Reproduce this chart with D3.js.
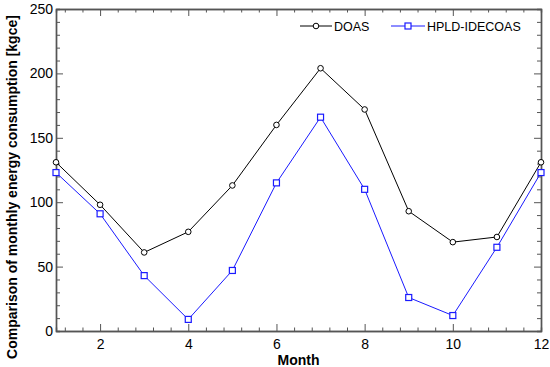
<!DOCTYPE html>
<html>
<head>
<meta charset="utf-8">
<script src="https://cdn.jsdelivr.net/npm/d3@7"></script>
<style>
  body { margin: 0; background: #fff; }
  svg { display: block; font-family: Arial, "Liberation Sans", sans-serif; }
</style>
</head>
<body>
<svg width="550" height="367"></svg>
<script>
const months = [1, 2, 3, 4, 5, 6, 7, 8, 9, 10, 11, 12];
const doas = [131, 98, 61, 77, 113, 160, 204, 172, 93, 69, 73, 131];
const hpld = [123, 91, 43, 9, 47, 115, 166, 110, 26, 12, 65, 123];
const xTicks = [2, 4, 6, 8, 10, 12];
const yTicks = [0, 50, 100, 150, 200, 250];
const seriesNames = ["DOAS", "HPLD-IDECOAS"];

const svg = d3.select("svg"),
  width = +svg.attr("width"),
  height = +svg.attr("height");

const margin = {top: 9, right: 9, bottom: 36, left: 56};

const x = d3.scaleLinear()
  .domain([1, 12])
  .range([margin.left, width - margin.right]);

const y = d3.scaleLinear()
  .domain([0, 250])
  .range([height - margin.bottom, margin.top]);

const xMinor = d3.range(1.2, 12, 0.4).filter(v => Math.abs(v / 2 - Math.round(v / 2)) > 0.01);
const yMinor = d3.range(0, 251, 10).filter(v => v % 50 !== 0);

const axisColor = "#555";

function styleAxis(g, showLabels) {
  g.select(".domain").attr("stroke", axisColor).attr("stroke-width", 1.4);
  g.selectAll(".tick line").attr("stroke", axisColor);
  g.selectAll(".tick text")
    .attr("fill", "#000")
    .style("font-size", "14px")
    .style("display", showLabels ? null : "none");
}

// minor ticks first
svg.append("g")
  .attr("transform", `translate(0,${y(0)})`)
  .call(d3.axisBottom(x).tickValues(xMinor).tickSize(-3.5).tickFormat(""))
  .call(g => styleAxis(g, false));
svg.append("g")
  .attr("transform", `translate(0,${y(250)})`)
  .call(d3.axisTop(x).tickValues(xMinor).tickSize(-3.5).tickFormat(""))
  .call(g => styleAxis(g, false));
svg.append("g")
  .attr("transform", `translate(${x(1)},0)`)
  .call(d3.axisLeft(y).tickValues(yMinor).tickSize(-4).tickFormat(""))
  .call(g => styleAxis(g, false));
svg.append("g")
  .attr("transform", `translate(${x(12)},0)`)
  .call(d3.axisRight(y).tickValues(yMinor).tickSize(-4).tickFormat(""))
  .call(g => styleAxis(g, false));

// major ticks
svg.append("g")
  .attr("transform", `translate(0,${y(0)})`)
  .call(d3.axisBottom(x).tickValues(xTicks).tickSizeInner(-7).tickSizeOuter(0).tickPadding(8))
  .call(g => styleAxis(g, true));
svg.append("g")
  .attr("transform", `translate(0,${y(250)})`)
  .call(d3.axisTop(x).tickValues(xTicks).tickSizeInner(-7).tickSizeOuter(0))
  .call(g => styleAxis(g, false));
svg.append("g")
  .attr("transform", `translate(${x(1)},0)`)
  .call(d3.axisLeft(y).tickValues(yTicks).tickSizeInner(-7).tickSizeOuter(0).tickPadding(3))
  .call(g => styleAxis(g, true));
svg.append("g")
  .attr("transform", `translate(${x(12)},0)`)
  .call(d3.axisRight(y).tickValues(yTicks).tickSizeInner(-7).tickSizeOuter(0))
  .call(g => styleAxis(g, false));

// axis titles
svg.append("text")
  .attr("x", (x(1) + x(12)) / 2)
  .attr("y", 365)
  .attr("text-anchor", "middle")
  .style("font-size", "14px")
  .style("font-weight", "bold")
  .text("Month");

svg.append("text")
  .attr("transform", `translate(17,${(y(0) + y(250)) / 2 + 17}) rotate(-90)`)
  .attr("text-anchor", "middle")
  .style("font-size", "14px")
  .style("font-weight", "bold")
  .text("Comparison of monthly energy consumption [kgce]");

// series
const series = [
  {name: seriesNames[0], values: doas, color: "#000", shape: "circle"},
  {name: seriesNames[1], values: hpld, color: "#1a1aff", shape: "square"}
];

const line = d3.line()
  .x((d, i) => x(months[i]))
  .y(d => y(d));

function drawMarker(g, shape, color, cx, cy) {
  if (shape === "circle") {
    g.append("circle")
      .attr("cx", cx).attr("cy", cy).attr("r", 2.8)
      .attr("fill", "#fff").attr("stroke", color).attr("stroke-width", 1);
  } else {
    g.append("rect")
      .attr("x", cx - 3).attr("y", cy - 3)
      .attr("width", 6).attr("height", 6)
      .attr("fill", "#fff").attr("stroke", color).attr("stroke-width", 1.2);
  }
}

series.forEach(s => {
  svg.append("path")
    .datum(s.values)
    .attr("fill", "none")
    .attr("stroke", s.color)
    .attr("stroke-width", 1)
    .attr("d", line);
  const g = svg.append("g");
  s.values.forEach((v, i) => drawMarker(g, s.shape, s.color, x(months[i]), y(v)));
});

// legend
const legendItems = [
  {s: series[0], x0: 300, x1: 332, tx: 334},
  {s: series[1], x0: 391, x1: 425, tx: 427}
];
const ly = 26;
legendItems.forEach(d => {
  const g = svg.append("g");
  g.append("line")
    .attr("x1", d.x0).attr("x2", d.x1)
    .attr("y1", ly).attr("y2", ly)
    .attr("stroke", d.s.color).attr("stroke-width", 1);
  drawMarker(g, d.s.shape, d.s.color, (d.x0 + d.x1) / 2, ly);
  g.append("text")
    .attr("x", d.tx)
    .attr("y", ly + 4.5)
    .style("font-size", "12.5px")
    .text(d.s.name);
});
</script>
</body>
</html>
